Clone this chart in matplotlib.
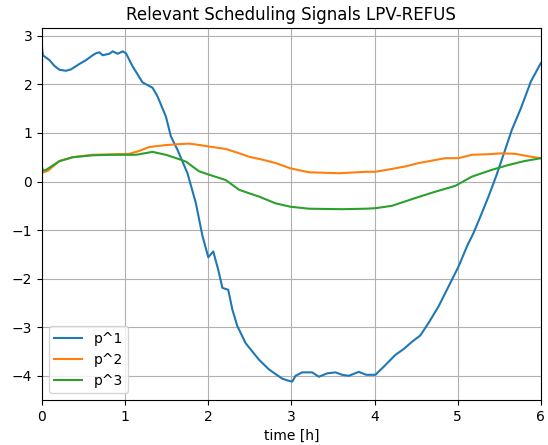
import matplotlib
matplotlib.use("Agg")
import matplotlib.pyplot as plt

# scheduling signals, time in hours
t_p1 = [0.0, 0.01, 0.05, 0.09, 0.15, 0.21, 0.29, 0.35, 0.45, 0.53, 0.61, 0.65,
        0.69, 0.73, 0.81, 0.85, 0.91, 0.97, 1.01, 1.09, 1.21, 1.33, 1.39, 1.49,
        1.55, 1.63, 1.75, 1.85, 1.93, 2.0, 2.06, 2.12, 2.17, 2.24, 2.29, 2.35,
        2.45, 2.61, 2.73, 2.89, 2.96, 3.01, 3.05, 3.13, 3.25, 3.33, 3.43, 3.53,
        3.61, 3.69, 3.81, 3.9, 4.01, 4.13, 4.25, 4.35, 4.45, 4.55, 4.65, 4.77,
        4.89, 5.01, 5.11, 5.19, 5.29, 5.37, 5.46, 5.55, 5.65, 5.76, 5.88, 6.0]
p1 = [2.78, 2.6, 2.55, 2.5, 2.38, 2.3, 2.28, 2.31, 2.42, 2.5, 2.6, 2.64,
      2.66, 2.6, 2.63, 2.68, 2.63, 2.68, 2.64, 2.37, 2.04, 1.93, 1.75, 1.34,
      0.93, 0.65, 0.17, -0.44, -1.12, -1.56, -1.44, -1.82, -2.19, -2.23, -2.64,
      -2.98, -3.33, -3.67, -3.87, -4.06, -4.1, -4.12, -4.0, -3.93, -3.93, -4.02,
      -3.95, -3.93, -3.98, -4.0, -3.92, -3.98, -3.98, -3.78, -3.57, -3.45, -3.3,
      -3.17, -2.91, -2.57, -2.16, -1.75, -1.34, -1.06, -0.65, -0.31, 0.1, 0.55,
      1.06, 1.51, 2.06, 2.44]

t_p2 = [0.0, 0.07, 0.21, 0.37, 0.61, 0.85, 1.05, 1.17, 1.29, 1.49, 1.65, 1.77,
        1.9, 2.01, 2.21, 2.41, 2.49, 2.65, 2.81, 2.99, 3.21, 3.57, 3.9, 4.01,
        4.21, 4.37, 4.53, 4.85, 5.01, 5.17, 5.35, 5.53, 5.69, 5.85, 6.0]
p2 = [0.18, 0.22, 0.42, 0.5, 0.55, 0.56, 0.57, 0.63, 0.71, 0.75, 0.77, 0.78,
      0.75, 0.72, 0.67, 0.56, 0.51, 0.45, 0.38, 0.27, 0.19, 0.17, 0.2, 0.2,
      0.26, 0.31, 0.38, 0.48, 0.48, 0.55, 0.56, 0.58, 0.57, 0.52, 0.48]

t_p3 = [0.0, 0.01, 0.05, 0.21, 0.37, 0.61, 0.85, 1.13, 1.33, 1.49, 1.65, 1.73,
        1.89, 2.01, 2.21, 2.37, 2.47, 2.61, 2.81, 2.99, 3.21, 3.61, 3.9, 4.01,
        4.21, 4.49, 4.73, 4.97, 5.17, 5.41, 5.61, 5.8, 6.0]
p3 = [0.3, 0.22, 0.24, 0.42, 0.5, 0.54, 0.55, 0.55, 0.61, 0.55, 0.46, 0.41,
      0.21, 0.14, 0.03, -0.17, -0.23, -0.31, -0.45, -0.52, -0.56, -0.57, -0.56,
      -0.55, -0.5, -0.34, -0.21, -0.09, 0.1, 0.24, 0.34, 0.42, 0.48]

fig = plt.figure(figsize=(5.48, 4.45), dpi=100)
ax = fig.add_axes([0.0766, 0.101, 0.9104, 0.836])

ax.plot(t_p1, p1, label='p^1')
ax.plot(t_p2, p2, label='p^2')
ax.plot(t_p3, p3, label='p^3')

ax.set_xlim(0, 6)
ax.set_ylim(-4.5, 3.16)
ax.set_xlabel('time [h]')
ax.set_title('Relevant Scheduling Signals LPV-REFUS')
ax.grid(True)
ax.legend(loc='lower left')

fig.savefig('out.png', dpi=100)
